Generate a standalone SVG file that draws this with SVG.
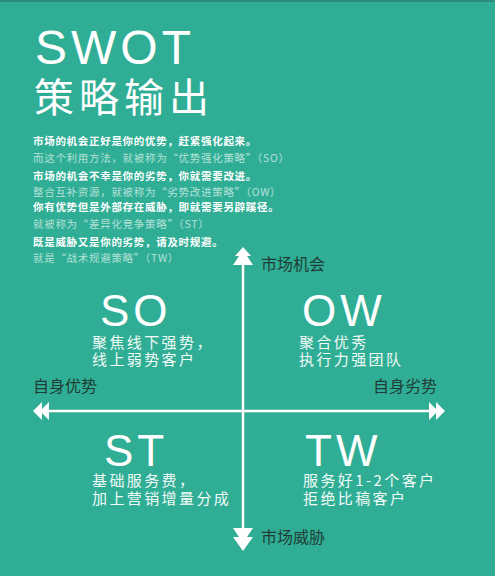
<svg xmlns="http://www.w3.org/2000/svg" width="495" height="576" viewBox="0 0 495 576">
<style>
.cjk{font-family:"Noto Sans CJK SC","Noto Sans",sans-serif}
.lat{font-family:"Liberation Sans","Noto Sans CJK SC",sans-serif}
.title{fill:#ffffff;font-size:48px;letter-spacing:4px}
.sub{fill:#ffffff;font-size:40px;letter-spacing:5px}
.note{font-size:10.5px;letter-spacing:0.7px}
.b{fill:#ffffff;font-weight:bold}
.l{fill:#d4efe7;opacity:0.8}
.big{fill:#ffffff;font-size:44px;letter-spacing:4px}
.desc{fill:#f0faf7;font-size:15px;letter-spacing:2.4px}
.axl{fill:#1f3d36;font-size:16px}
.ax{stroke:#ffffff;stroke-width:2.5;fill:none}
.ah{fill:#ffffff}
</style>
<rect width="495" height="576" fill="#30ae95"/>
<rect width="495" height="2" fill="#2a8c7a"/>
<g id="title">
<text class="lat title" x="35" y="64">SWOT</text>
<text class="cjk sub" x="34" y="112">策略输出</text>
</g>
<g id="notes" class="cjk note">
<text class="b" x="33" y="145">市场的机会正好是你的优势，赶紧强化起来。</text>
<text class="l" x="33" y="162">而这个利用方法，就被称为“优势强化策略”（SO）</text>
<text class="b" x="33" y="180">市场的机会不幸是你的劣势，你就需要改进。</text>
<text class="l" x="33" y="196">整合互补资源，就被称为“劣势改进策略”（OW）</text>
<text class="b" x="33" y="211">你有优势但是外部存在威胁，即就需要另辟蹊径。</text>
<text class="l" x="33" y="228">就被称为“差异化竞争策略”（ST）</text>
<text class="b" x="33" y="246">既是威胁又是你的劣势，请及时规避。</text>
<text class="l" x="33" y="262">就是“战术规避策略”（TW）</text>
</g>
<g id="connectors">
<line class="ax" x1="243" y1="258" x2="243" y2="532"/>
<line class="ax" x1="44" y1="411" x2="435" y2="411"/>
<polygon class="ah" points="243,247 251,256 247,256 253,265 233,265 239,256 235,256"/>
<polygon class="ah" points="233,528 253,528 247,537 253,537 243,551 233,537 239,537"/>
<polygon class="ah" points="33,411 42,402 42,409 49,402 49,420 42,413 42,420"/>
<polygon class="ah" points="445,411 436,402 436,409 429,402 429,420 436,413 436,420"/>
</g>
<g id="axis-top"><text class="cjk axl" x="261" y="270">市场机会</text></g>
<g id="axis-bottom"><text class="cjk axl" x="261" y="543">市场威胁</text></g>
<g id="axis-left"><text class="cjk axl" x="33" y="392">自身优势</text></g>
<g id="axis-right"><text class="cjk axl" x="373" y="392">自身劣势</text></g>
<g id="SO">
<text class="lat big" x="100" y="326">SO</text>
<text class="cjk desc"><tspan x="92" y="348">聚焦线下强势，</tspan><tspan x="92" y="365">线上弱势客户</tspan></text>
</g>
<g id="OW">
<text class="lat big" x="302" y="326">OW</text>
<text class="cjk desc"><tspan x="299" y="348">聚合优秀</tspan><tspan x="299" y="365">执行力强团队</tspan></text>
</g>
<g id="ST">
<text class="lat big" x="104" y="466">ST</text>
<text class="cjk desc"><tspan x="92" y="486">基础服务费，</tspan><tspan x="92" y="504">加上营销增量分成</tspan></text>
</g>
<g id="TW">
<text class="lat big" x="305" y="466">TW</text>
<text class="cjk desc"><tspan x="303" y="486">服务好1-2个客户</tspan><tspan x="303" y="504">拒绝比稿客户</tspan></text>
</g>
</svg>
